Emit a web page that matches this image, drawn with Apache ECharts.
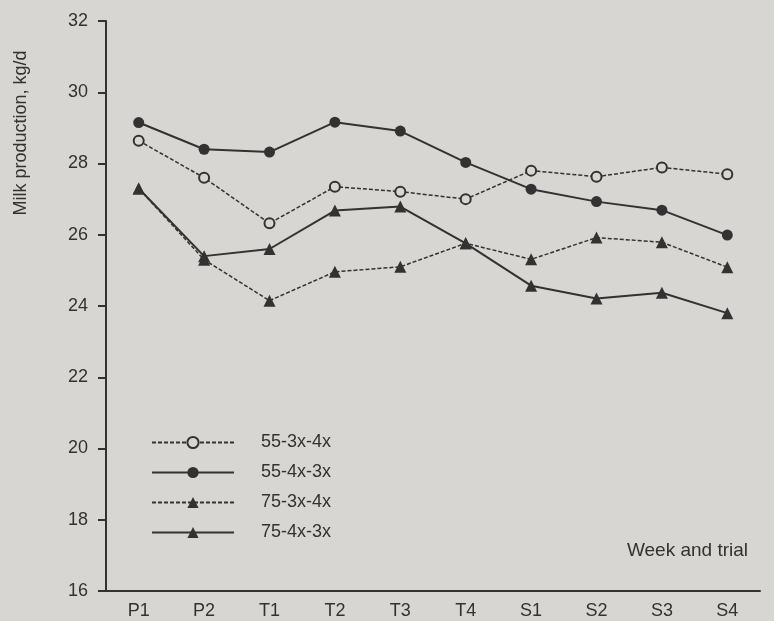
<!DOCTYPE html>
<html>
<head>
<meta charset="utf-8">
<script src="https://cdn.jsdelivr.net/npm/echarts@6/dist/echarts.min.js"></script>
<style>
  html, body { margin: 0; padding: 0; background: #d8d6d2; }
  #chart { width: 774px; height: 621px; }
</style>
</head>
<body>
<div id="chart"></div>
<script>
// Data
var categories = ['P1', 'P2', 'T1', 'T2', 'T3', 'T4', 'S1', 'S2', 'S3', 'S4'];
var s55_3x4x = [28.64, 27.6, 26.32, 27.35, 27.21, 27.0, 27.8, 27.63, 27.89, 27.7];
var s55_4x3x = [29.15, 28.4, 28.32, 29.16, 28.91, 28.03, 27.28, 26.93, 26.69, 25.99];
var s75_3x4x = [27.3, 25.3, 24.15, 24.96, 25.1, 25.76, 25.31, 25.92, 25.79, 25.09];
var s75_4x3x = [27.3, 25.4, 25.6, 26.68, 26.79, 25.76, 24.57, 24.21, 24.37, 23.8];
var seriesNames = ['55-3x-4x', '55-4x-3x', '75-3x-4x', '75-4x-3x'];
var yMin = 16, yMax = 32, yStep = 2;

var ink = '#353031';
var paper = '#d8d6d2';
var font = "'Liberation Sans', Arial, Helvetica, sans-serif";

var chart = echarts.init(document.getElementById('chart'), null, { renderer: 'canvas' });

function lineSeries(name, data, symbol, size, dashed, width, hollow) {
  return {
    name: name,
    type: 'line',
    data: data,
    symbol: symbol,
    symbolSize: size,
    showAllSymbol: true,
    animation: false,
    lineStyle: { color: ink, width: width, type: dashed ? [4, 2] : 'solid' },
    itemStyle: hollow
      ? { color: paper, borderColor: ink, borderWidth: 2 }
      : { color: ink, borderWidth: 0 },
    emphasis: { disabled: true }
  };
}

var option = {
  backgroundColor: paper,
  animation: false,
  textStyle: { fontFamily: font, color: ink },
  grid: { left: 106, right: 14, top: 21, bottom: 30, containLabel: false },
  legend: {
    orient: 'vertical',
    left: 146,
    top: 428,
    itemWidth: 82,
    itemHeight: 14,
    itemGap: 11,
    data: seriesNames,
    textStyle: { fontFamily: font, fontSize: 18, color: ink, lineHeight: 19, padding: [0, 0, 0, 22] }
  },
  xAxis: {
    type: 'category',
    data: categories,
    boundaryGap: true,
    axisLine: { lineStyle: { color: ink, width: 2 } },
    axisTick: { alignWithLabel: true, length: 6, lineStyle: { color: ink, width: 2 } },
    axisLabel: { fontFamily: font, fontSize: 18, color: ink, margin: 11 },
    splitLine: { show: false }
  },
  yAxis: {
    type: 'value',
    min: yMin,
    max: yMax,
    interval: yStep,
    axisLine: { show: true, lineStyle: { color: ink, width: 2 } },
    axisTick: { show: true, length: 8, lineStyle: { color: ink, width: 2 } },
    axisLabel: { fontFamily: font, fontSize: 18, color: ink, margin: 18 },
    splitLine: { show: false }
  },
  graphic: [
    {
      type: 'text',
      x: 21,
      y: 133,
      rotation: Math.PI / 2,
      style: {
        text: 'Milk production, kg/d',
        fontFamily: font,
        fontSize: 18,
        fill: ink,
        textAlign: 'center',
        textVerticalAlign: 'middle'
      }
    },
    {
      type: 'text',
      x: 748,
      y: 551,
      style: {
        text: 'Week and trial',
        fontFamily: font,
        fontSize: 19,
        fill: ink,
        textAlign: 'right',
        textVerticalAlign: 'middle'
      }
    }
  ],
  series: [
    lineSeries(seriesNames[0], s55_3x4x, 'circle', 10, true, 1.5, true),
    lineSeries(seriesNames[1], s55_4x3x, 'circle', 11, false, 2, false),
    lineSeries(seriesNames[2], s75_3x4x, 'triangle', 12, true, 1.5, false),
    lineSeries(seriesNames[3], s75_4x3x, 'triangle', 12, false, 2, false)
  ]
};

chart.setOption(option);
</script>
</body>
</html>
